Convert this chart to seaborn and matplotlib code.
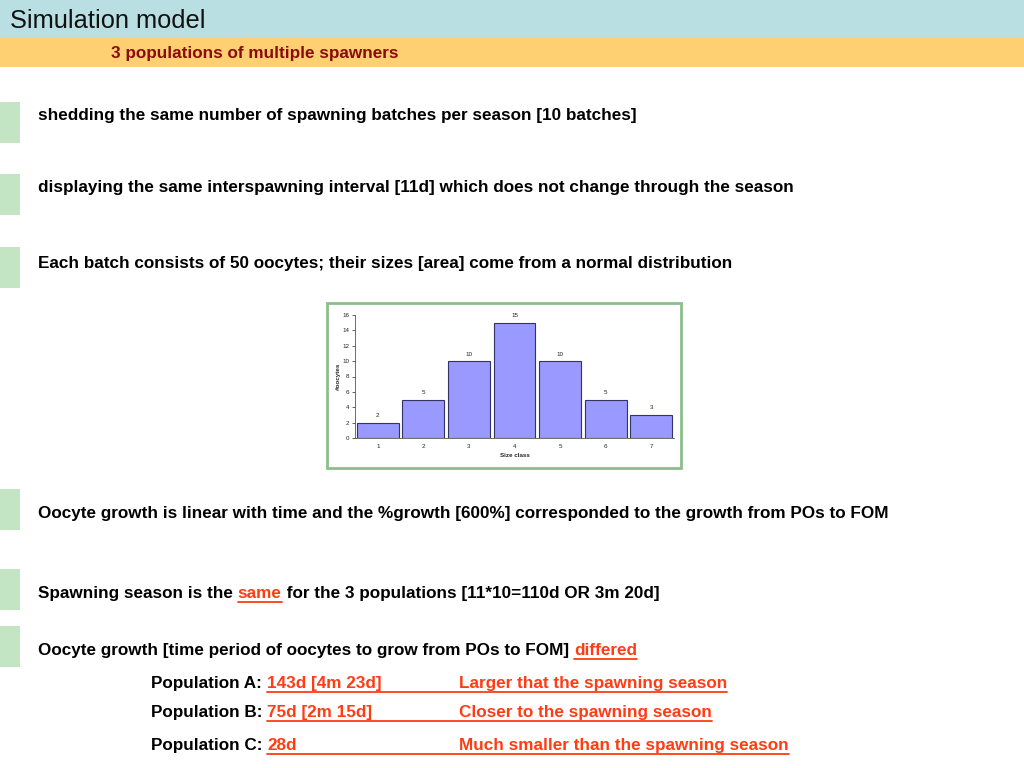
import matplotlib
matplotlib.use("Agg")
import matplotlib.pyplot as plt
import seaborn as sns
import pandas as pd
from matplotlib.patches import Rectangle

# chart data
size_class = ["1", "2", "3", "4", "5", "6", "7"]
oocytes = [2, 5, 10, 15, 10, 5, 3]
y_ticks = [0, 2, 4, 6, 8, 10, 12, 14, 16]

title = "Simulation model"
subtitle = "3 populations of multiple spawners"
bullets = [
    "shedding the same number of spawning batches per season [10 batches]",
    "displaying the same interspawning interval [11d] which does not change through the season",
    "Each batch consists of 50 oocytes; their sizes [area] come from a normal distribution",
    "Oocyte growth is linear with time and the %growth [600%] corresponded to the growth from POs to FOM",
]
pop_names = ["Population A: ", "Population B: ", "Population C: "]
pop_days = ["143d [4m 23d]", "75d [2m 15d]", "28d"]
pop_notes = ["Larger that the spawning season", "Closer to the spawning season",
             "Much smaller than the spawning season"]

W, H = 1024, 768
RED = "#ff3c14"
sns.set_style("white")
plt.rcParams["font.family"] = ["Liberation Sans", "DejaVu Sans"]

fig = plt.figure(figsize=(W / 100, H / 100), dpi=100)


def fx(x):
    return x / W


def fy(y):
    return 1 - y / H


# header bands
fig.patches.append(Rectangle((0, fy(38)), 1, 38 / H, transform=fig.transFigure,
                             facecolor="#b9dfe3", edgecolor="none", zorder=0))
fig.patches.append(Rectangle((0, fy(67)), 1, 29 / H, transform=fig.transFigure,
                             facecolor="#ffd071", edgecolor="none", zorder=0))
fig.text(fx(10), fy(28), title, fontsize=18.3, va="baseline", ha="left", color="#111111")
fig.text(fx(255), fy(58), subtitle, fontsize=12.3, fontweight="bold", va="baseline",
         ha="center", color="#8b0a0a")

# green markers
for top in [102, 174, 247, 489, 569, 626]:
    fig.patches.append(Rectangle((0, fy(top + 41)), 20 / W, 41 / H, transform=fig.transFigure,
                                 facecolor="#c3e5c3", edgecolor="none", zorder=0))

tkw = dict(fontsize=12.3, fontweight="bold", va="baseline", ha="left", color="black")
for txt, y in zip(bullets, [115, 187, 263, 513]):
    fig.text(fx(38), fy(y + 5), txt, **tkw)

renderer = fig.canvas.get_renderer()


def underline(t, y, x_end=None):
    bb = t.get_window_extent(renderer=renderer)
    x0 = bb.x0
    x1 = bb.x1 if x_end is None else x_end
    fig.add_artist(plt.Line2D([x0 / W, x1 / W], [fy(y + 4), fy(y + 4)],
                              transform=fig.transFigure, color=RED, lw=1.3))


# spawning season line with red "same"
t1 = fig.text(fx(38), fy(598), "Spawning season is the ", **tkw)
bb = t1.get_window_extent(renderer=renderer)
t2 = fig.text(bb.x1 / W, fy(598), "same", **{**tkw, "color": RED})
underline(t2, 598)
bb = t2.get_window_extent(renderer=renderer)
fig.text(bb.x1 / W, fy(598), " for the 3 populations [11*10=110d OR 3m 20d]", **tkw)

t1 = fig.text(fx(38), fy(655), "Oocyte growth [time period of oocytes to grow from POs to FOM] ", **tkw)
bb = t1.get_window_extent(renderer=renderer)
t2 = fig.text(bb.x1 / W, fy(655), "differed", **{**tkw, "color": RED})
underline(t2, 655)

for name, days, note, y in zip(pop_names, pop_days, pop_notes, [688, 717, 750]):
    fig.text(fx(151), fy(y), name, **tkw)
    td = fig.text(fx(267), fy(y), days, **{**tkw, "color": RED})
    tn = fig.text(fx(459), fy(y), note, **{**tkw, "color": RED})
    x_end = tn.get_window_extent(renderer=renderer).x1
    underline(td, y, x_end=x_end)

# chart frame
fig.patches.append(Rectangle((fx(327), fy(468)), (681 - 327) / W, (468 - 303) / H,
                             transform=fig.transFigure, facecolor="white",
                             edgecolor="#8cbf8c", lw=2, zorder=1))

ax = fig.add_axes([fx(355), fy(438), (674 - 355) / W, (438 - 315) / H], zorder=2)
ax.patch.set_alpha(0)
df = pd.DataFrame({"Size class": size_class, "#oocytes": oocytes})
sns.barplot(data=df, x="Size class", y="#oocytes", color="#9999ff", saturation=1,
            width=0.92, edgecolor="#333366", linewidth=0.8, ax=ax)
ax.set_ylim(0, 16)
ax.set_xlim(-0.5, 6.5)
ax.set_yticks(y_ticks)
ax.tick_params(axis="both", labelsize=4.5, length=2, width=0.5, pad=2, direction="out")
ax.tick_params(axis="y", left=True)
ax.tick_params(axis="x", bottom=False)
for sp in ["top", "right"]:
    ax.spines[sp].set_visible(False)
for sp in ["left", "bottom"]:
    ax.spines[sp].set_color("#555555")
    ax.spines[sp].set_linewidth(0.6)
ax.set_xlabel("Size class", fontsize=4.5, fontweight="bold", labelpad=3)
ax.set_ylabel("#oocytes", fontsize=4.5, fontweight="bold", labelpad=1)
for p, v in zip(ax.patches, oocytes):
    ax.annotate(f"{v}", (p.get_x() + p.get_width() / 2, p.get_height()),
                xytext=(0, 5), textcoords="offset points", ha="center",
                va="center", fontsize=4.5, color="#222222")

fig.savefig("out.png", dpi=100)
